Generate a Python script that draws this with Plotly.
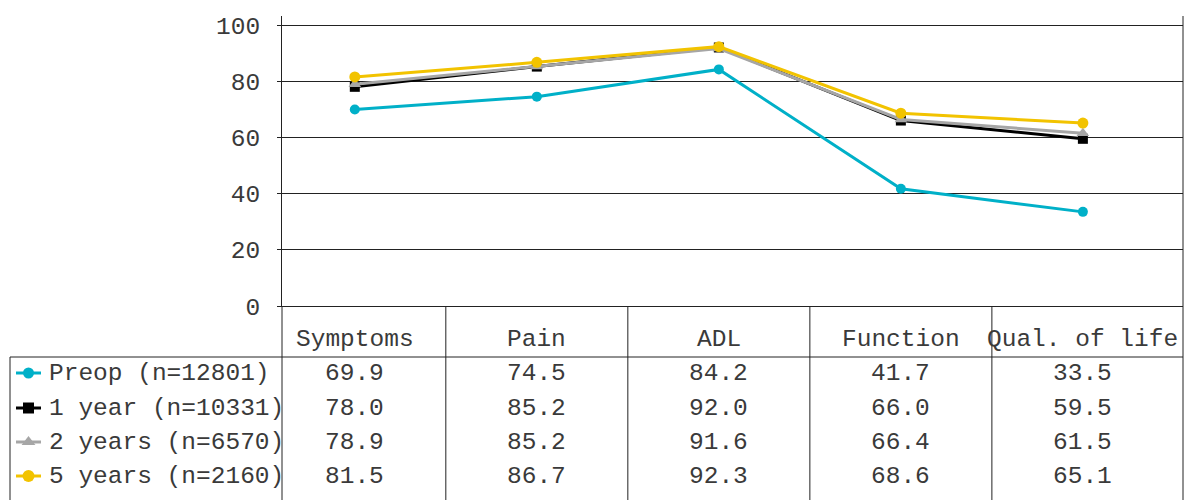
import plotly.graph_objects as go

# ---- data ----
categories = ["Symptoms", "Pain", "ADL", "Function", "Qual. of life"]
series_names = ["Preop (n=12801)", "1 year (n=10331)", "2 years (n=6570)", "5 years (n=2160)"]
preop = [69.9, 74.5, 84.2, 41.7, 33.5]
year1 = [78.0, 85.2, 92.0, 66.0, 59.5]
year2 = [78.9, 85.2, 91.6, 66.4, 61.5]
year5 = [81.5, 86.7, 92.3, 68.6, 65.1]
y_ticks = [0, 20, 40, 60, 80, 100]

series_values = [preop, year1, year2, year5]

# ---- styling ----
W, H = 1184, 500
FONT = "Liberation Mono"
TEXT = "#3a3a3a"
LINE = "#222222"
colors = ["#00b0c8", "#000000", "#a6a6a6", "#f2c300"]
symbols = ["circle", "square", "triangle-up", "circle"]
marker_sizes = [10, 10, 11, 11]
FS = 24.5

# pixel geometry of the chart + data table
plot_left, plot_right = 282, 1183
plot_top, plot_bottom = 16, 306
table_left = 10
header_line_y = 357
header_text_y = 339
row_y = [373, 408, 442, 476]
key_x0, key_x1 = 16, 41
label_x = 47


def px(x):
    return x / W


def py(y):
    return 1 - y / H


fig = go.Figure()

# main series
for name, vals, c, s, ms in zip(series_names, series_values, colors, symbols, marker_sizes):
    fig.add_trace(go.Scatter(
        x=categories, y=vals, name=name, mode="lines+markers",
        line=dict(color=c, width=3),
        marker=dict(symbol=s, size=ms, color=c),
        xaxis="x", yaxis="y", showlegend=False, hoverinfo="x+y+name",
    ))

# legend keys in the table's row headers (pixel-space overlay axes)
for i, (c, s, ms) in enumerate(zip(colors, symbols, marker_sizes)):
    yk = row_y[i]
    fig.add_trace(go.Scatter(
        x=[key_x0, key_x1], y=[yk, yk], mode="lines",
        line=dict(color=c, width=3),
        xaxis="x2", yaxis="y2", showlegend=False, hoverinfo="skip",
    ))
    fig.add_trace(go.Scatter(
        x=[(key_x0 + key_x1) / 2], y=[yk], mode="markers",
        marker=dict(symbol=s, size=ms + 1, color=c),
        xaxis="x2", yaxis="y2", showlegend=False, hoverinfo="skip",
    ))

shapes = []
line_style = dict(color=LINE, width=1)

# right border of chart + table
shapes.append(dict(type="line", xref="paper", yref="paper",
                   x0=px(plot_right), x1=px(plot_right), y0=py(plot_top), y1=0, line=line_style))
# y-axis line continues down through the table
shapes.append(dict(type="line", xref="paper", yref="paper",
                   x0=px(plot_left), x1=px(plot_left), y0=py(plot_bottom), y1=0, line=line_style))
# column dividers between categories
for k in range(len(categories) - 1):
    shapes.append(dict(type="line", xref="x", yref="paper",
                       x0=k + 0.5, x1=k + 0.5, y0=py(plot_bottom), y1=0, line=line_style))
# header separator and left table border
shapes.append(dict(type="line", xref="paper", yref="paper",
                   x0=px(table_left), x1=px(plot_right), y0=py(header_line_y), y1=py(header_line_y),
                   line=line_style))
shapes.append(dict(type="line", xref="paper", yref="paper",
                   x0=px(table_left), x1=px(table_left), y0=py(header_line_y), y1=0, line=line_style))

annotations = []
tfont = dict(family=FONT, size=FS, color=TEXT)
# column headers
for k, cat in enumerate(categories):
    annotations.append(dict(x=k, y=py(header_text_y), xref="x", yref="paper", text=cat,
                            showarrow=False, font=tfont, xanchor="center", yanchor="middle"))
# row headers and values
for i, (name, vals) in enumerate(zip(series_names, series_values)):
    annotations.append(dict(x=px(label_x), y=py(row_y[i]), xref="paper", yref="paper", text=name,
                            showarrow=False, font=tfont, xanchor="left", yanchor="middle"))
    for k, v in enumerate(vals):
        annotations.append(dict(x=k, y=py(row_y[i]), xref="x", yref="paper", text=f"{v:.1f}",
                                showarrow=False, font=tfont, xanchor="center", yanchor="middle"))

fig.update_layout(
    width=W, height=H,
    autosize=False,
    margin=dict(l=0, r=0, t=0, b=0, pad=0, autoexpand=False),
    paper_bgcolor="white", plot_bgcolor="rgba(0,0,0,0)",
    font=dict(family=FONT, color=TEXT),
    xaxis=dict(
        domain=[px(plot_left), px(plot_right)],
        type="category", range=[-0.4, 4.55],
        showgrid=False, zeroline=False, showticklabels=False, ticks="",
        showline=True, linecolor=LINE, linewidth=1,
        anchor="y",
    ),
    yaxis=dict(
        domain=[py(plot_bottom), py(plot_top)],
        range=[0, (plot_bottom - plot_top) / (plot_bottom - 25) * 100],
        tickvals=y_ticks, ticktext=[str(t) for t in y_ticks],
        showgrid=True, gridcolor=LINE, gridwidth=1, zeroline=False,
        showline=True, linecolor=LINE, linewidth=1,
        ticks="outside", ticklen=4, tickcolor=LINE,
        tickfont=dict(family=FONT, size=FS, color=TEXT),
        ticklabelstandoff=12,
        anchor="x",
    ),
    xaxis2=dict(domain=[0, 1], range=[0, W], visible=False, anchor="y2", fixedrange=True),
    yaxis2=dict(domain=[0, 1], range=[H, 0], visible=False, anchor="x2", fixedrange=True),
    shapes=shapes,
    annotations=annotations,
)

fig.write_html("out.html")
